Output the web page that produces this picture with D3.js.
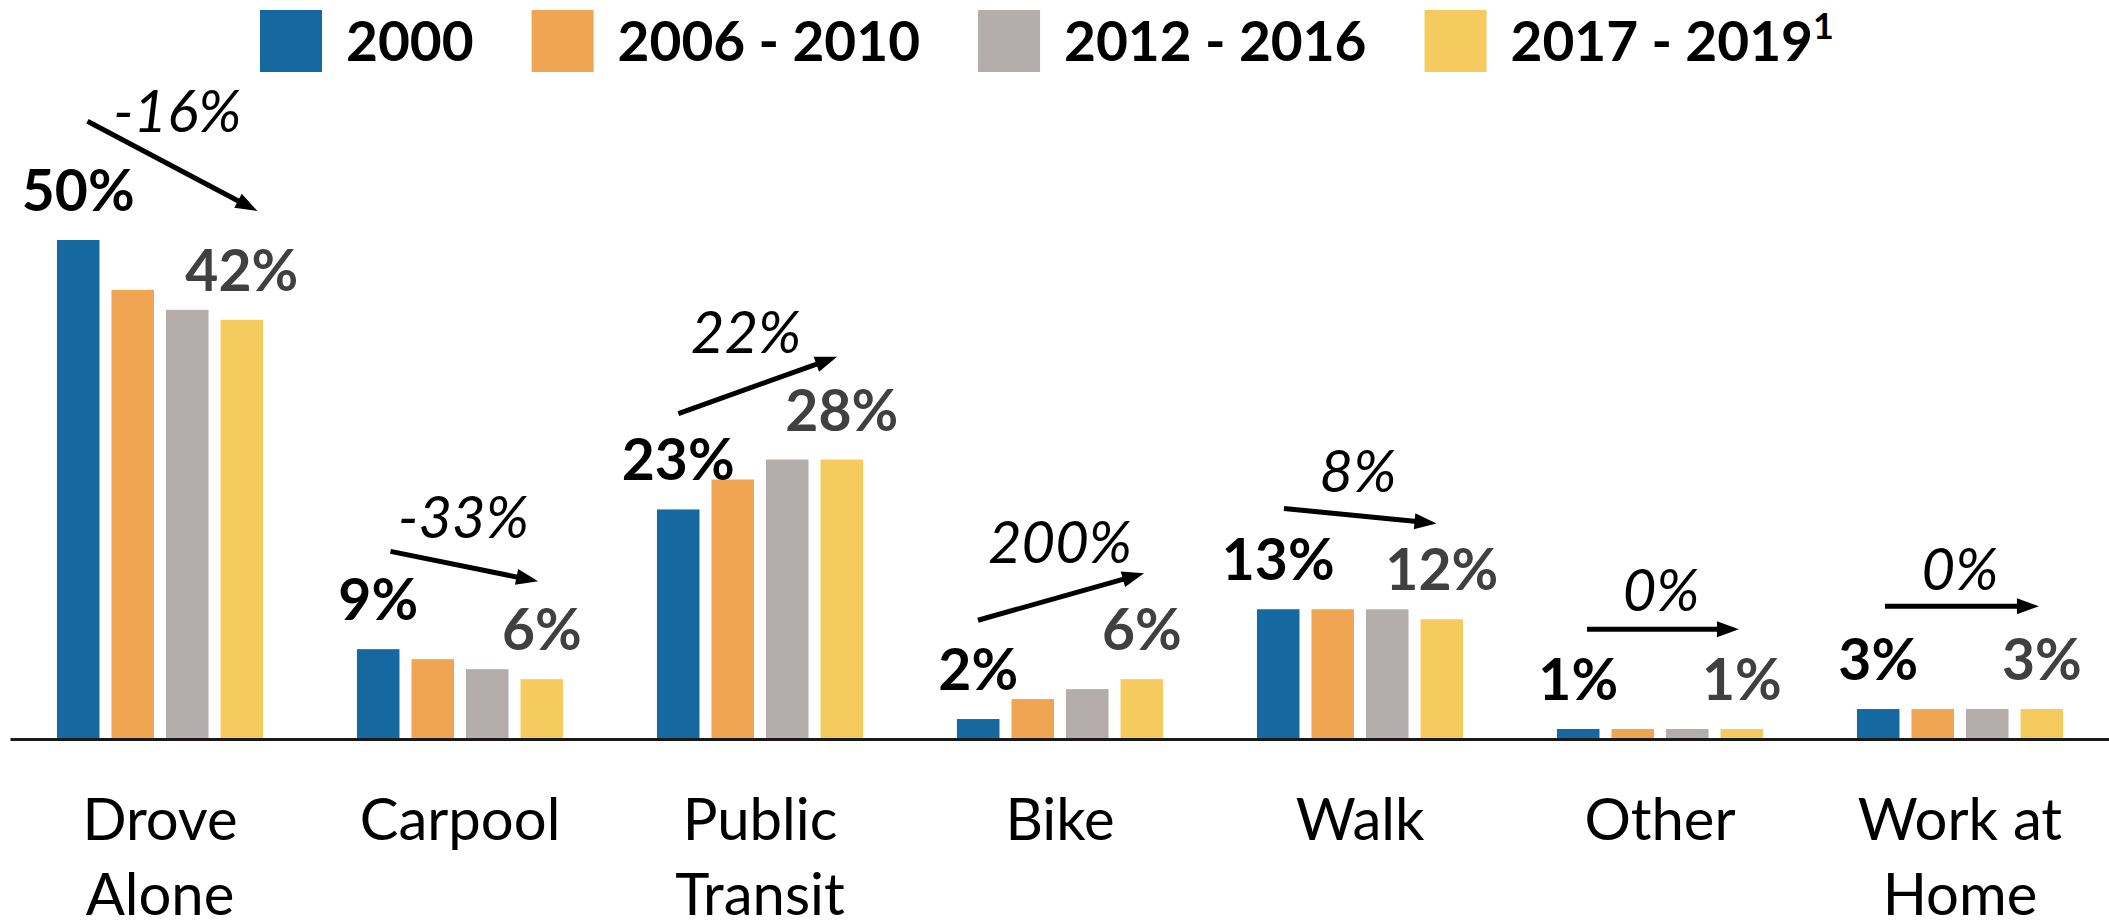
<!DOCTYPE html>
<html>
<head>
<meta charset="utf-8">
<script src="https://cdn.jsdelivr.net/npm/d3@7"></script>
<style>
html, body { margin: 0; padding: 0; background: #ffffff; }
svg { display: block; font-family: Lato, "Open Sans", sans-serif; }
</style>
</head>
<body>
<svg id="chart" width="2109" height="924"></svg>
<script>
// ---------- DATA ----------
const categories = ["Drove Alone", "Carpool", "Public Transit", "Bike", "Walk", "Other", "Work at Home"];
const categoryLines = [["Drove", "Alone"], ["Carpool"], ["Public", "Transit"], ["Bike"], ["Walk"], ["Other"], ["Work at", "Home"]];
const seriesNames = ["2000", "2006 - 2010", "2012 - 2016", "2017 - 2019"];
const values2000 = [50, 9, 23, 2, 13, 1, 3];
const values2006 = [45, 8, 26, 4, 13, 1, 3];
const values2012 = [43, 7, 28, 5, 13, 1, 3];
const values2017 = [42, 6, 28, 6, 12, 1, 3];
const changeLabels = ["-16%", "-33%", "22%", "200%", "8%", "0%", "0%"];
// annotation anchors, in percentage units (value axis)
const arrowFromValue = [61.9, 18.8, 32.6, 11.9, 23.1, 11.0, 13.3];
const arrowToValue   = [52.9, 15.8, 38.3, 16.6, 21.6, 11.0, 13.3];
const changeLabelValue = [60.8, 20.1, 38.7, 17.6, 24.7, 12.8, 14.9];

// ---------- LAYOUT / STYLE ----------
const colors = ["#1668A0", "#F0A552", "#B5ADAB", "#F5CB60"];
const arrowStartFrac = [0.148, 0.163, 0.104, 0.102, 0.131, 0.146, 0.136];
const arrowEndFrac   = [0.973, 0.879, 0.874, 0.908, 0.871, 0.883, 0.883];
const labelFrac      = [0.584, 0.517, 0.432, 0.500, 0.490, 0.505, 0.500];

const series = [values2000, values2006, values2012, values2017];
const svg = d3.select("#chart");

const x0 = d3.scaleBand().domain(categories).range([10, 2110])
  .paddingInner(0.313).paddingOuter(0.1565);
const x1 = d3.scaleBand().domain(seriesNames).range([0, x0.bandwidth()]).paddingInner(0.22);
const y = d3.scaleLinear().domain([0, 50]).range([739, 240]);

// ---------- BARS ----------
const groups = svg.append("g").selectAll("g").data(categories).join("g")
  .attr("transform", d => `translate(${x0(d)},0)`);

groups.selectAll("rect")
  .data((c, ci) => seriesNames.map((s, si) => ({ s, si, v: series[si][ci] })))
  .join("rect")
  .attr("x", d => x1(d.s))
  .attr("y", d => y(d.v))
  .attr("width", x1.bandwidth())
  .attr("height", d => y(0) - y(d.v))
  .attr("fill", d => colors[d.si]);

// ---------- VALUE LABELS (first and last series) ----------
groups.each(function (c, ci) {
  const g = d3.select(this);
  [[0, "#000000"], [3, "#404040"]].forEach(([si, col]) => {
    g.append("text")
      .attr("x", x1(seriesNames[si]) + x1.bandwidth() / 2)
      .attr("y", y(series[si][ci]) - 29)
      .attr("text-anchor", "middle")
      .attr("font-size", 57)
      .attr("font-weight", 700)
      .attr("fill", col)
      .text(series[si][ci] + "%");
  });
});

// ---------- AXIS ----------
const axis = svg.append("g")
  .attr("transform", `translate(0,${y(0)})`)
  .call(d3.axisBottom(x0).tickSize(0).tickSizeOuter(0).tickPadding(0));
axis.attr("font-family", null).attr("font-size", null);
axis.select(".domain").attr("stroke", "#1a1a1a").attr("stroke-width", 3);
axis.selectAll(".tick text").each(function (d, i) {
  const t = d3.select(this);
  t.text(null).attr("y", null).attr("dy", null)
    .attr("font-size", 58).attr("fill", "#000");
  categoryLines[i].forEach((line, j) => {
    t.append("tspan").attr("x", 0).attr("y", 101 + j * 75).text(line);
  });
});

// ---------- CHANGE ARROWS ----------
const ann = svg.append("g");
categories.forEach((c, i) => {
  const bw = x0.bandwidth();
  const xs = x0(c) + arrowStartFrac[i] * bw, ys = y(arrowFromValue[i]);
  const xe = x0(c) + arrowEndFrac[i] * bw, ye = y(arrowToValue[i]);
  const dx = xe - xs, dy = ye - ys, len = Math.hypot(dx, dy);
  const ux = dx / len, uy = dy / len;
  const headL = 22, headW = 8;
  ann.append("line")
    .attr("x1", xs).attr("y1", ys)
    .attr("x2", xe - ux * 12).attr("y2", ye - uy * 12)
    .attr("stroke", "#000").attr("stroke-width", 5);
  const bx = xe - ux * headL, by = ye - uy * headL;
  ann.append("path")
    .attr("d", `M${xe},${ye}L${bx - uy * headW},${by + ux * headW}L${bx + uy * headW},${by - ux * headW}Z`)
    .attr("fill", "#000");
  ann.append("text")
    .attr("x", x0(c) + labelFrac[i] * bw)
    .attr("y", y(changeLabelValue[i]))
    .attr("text-anchor", "middle")
    .attr("font-size", 58)
    .attr("font-style", "italic")
    .attr("fill", "#000")
    .text(changeLabels[i]);
});

// ---------- LEGEND ----------
const legend = svg.append("g");
let lx = 260;
seriesNames.forEach((name, i) => {
  legend.append("rect").attr("x", lx).attr("y", 10).attr("width", 62).attr("height", 62).attr("fill", colors[i]);
  const t = legend.append("text").attr("x", lx + 86).attr("y", 61)
    .attr("font-size", 55).attr("font-weight", 700).attr("fill", "#000").text(name);
  if (i === seriesNames.length - 1) {
    t.append("tspan").attr("font-size", 36).attr("dy", -22).text("1");
  }
  lx += 86 + t.node().getComputedTextLength() + 58;
});
</script>
</body>
</html>
